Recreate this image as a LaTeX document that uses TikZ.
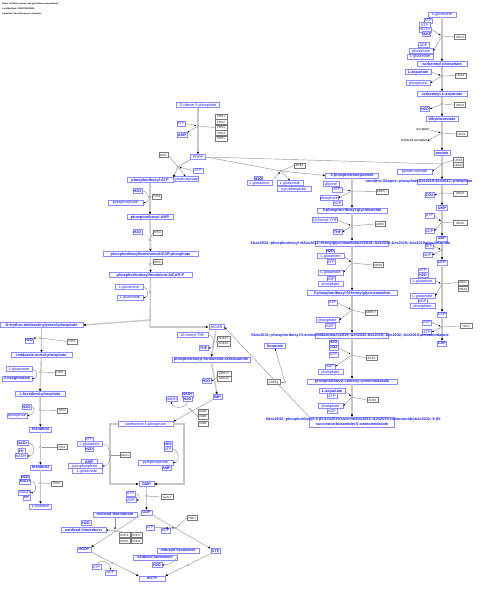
\documentclass[tikz,border=0pt]{standalone}
\usepackage{fontspec}
\setmainfont{Liberation Sans}
\usetikzlibrary{arrows.meta}
\definecolor{metline}{RGB}{140,140,255}
\definecolor{mettext}{RGB}{30,30,235}
\definecolor{geneline}{RGB}{120,120,120}
\definecolor{chaingray}{RGB}{200,200,200}
\definecolor{linkgray}{RGB}{150,150,150}
\tikzset{
  met/.style={draw=metline, line width=0.45pt, fill=white, text=mettext,
    font=\fontsize{3.8}{3.8}\selectfont, inner sep=0.2pt, minimum height=4.6pt,
    text height=2.8pt, text depth=0.8pt},
  main/.style={met, font=\fontsize{3.8}{3.8}\selectfont\bfseries},
  mw/.style={minimum width=#1},
  ovl/.style={text=mettext, font=\fontsize{3.8}{3.8}\selectfont\bfseries, inner sep=0pt},
  gene/.style={draw=geneline, line width=0.45pt, fill=white, text=black!85,
    font=\fontsize{3}{3}\selectfont, inner sep=0.2pt, minimum height=4.6pt,
    minimum width=11pt},
  plain/.style={font=\fontsize{3.4}{3.4}\selectfont, inner sep=0pt},
  head/.style={anchor=west, font=\fontsize{2.15}{2.15}\selectfont\bfseries, inner sep=0pt},
  rxn/.style={circle, draw=linkgray, fill=white, line width=0.4pt, inner sep=0pt,
    minimum size=2.4pt},
  track/.style={draw=chaingray, line width=1.4pt},
  chain/.style={track, -{Latex[length=2.6pt,width=2.6pt,color=black]}},
  slim/.style={draw=chaingray!85!black, line width=0.6pt, -{Latex[length=2.4pt,width=2.2pt,color=black]}},
  link/.style={draw=linkgray, line width=0.45pt},
  feed/.style={link, -{Latex[length=2pt,width=1.8pt,color=black]}},
}
\begin{document}
\begin{tikzpicture}[x=1pt,y=-1pt]
\useasboundingbox (0,0) rectangle (480,590);

% header
\node[head] (hName) at (2,3.5) {Name: Histidine, purine, and pyrimidine superpathway};
\node[head] (hDate) at (2,8.5) {Last-Modified: 20220720135016};
\node[head] (hOrg) at (2,13.5) {Organism: Saccharomyces cerevisiae};

% pyrimidine branch
\node[met,mw=28] (yGln) at (442,14.5) {L-glutamine};
\node[met,mw=8] (yAtp0) at (428,20.5) {ATP};
\node[met,mw=11] (yAtp1) at (424.5,25) {ATP};
\node[met,mw=12] (yHco) at (425,29.5) {HCO3-};
\node[main,mw=8] (yWat1) at (426.5,34) {H2O};
\node[met,mw=11] (yAdp1) at (423.5,45) {ADP};
\node[met,mw=24] (yPi1) at (421,51) {phosphate};
\node[met,mw=26] (yGlu1) at (420,56.5) {L-glutamate};
\node[main,mw=50] (yCp) at (442,64) {carbamoyl phosphate};
\node[main,mw=26] (yAsp) at (418,72) {L-aspartate};
\node[met,mw=24] (yPi2) at (418,83) {phosphate};
\node[main,mw=50] (yCa) at (442,94) {carbamoyl-L-aspartate};
\node[main,mw=9] (yWat2) at (425,109) {H2O};
\node[main,mw=32] (yDho) at (442,119) {dihydroorotate};
\node[plain] (yAcc) at (423,130) {acceptor};
\node[plain] (yRacc) at (414,141) {reduced acceptor};
\node[main,mw=16] (yOro) at (442,153) {orotate};
\node[met,mw=35] (yPpi) at (414.5,171.5) {pyrophosphate};
\node[main,mw=50,label={[ovl,xshift=-23pt]center:orotidine-5\&apos;-phosphate\&\#x2019;\&\#x2032;-phosphate}] (yOmp) at (442,182) {};
\node[main,mw=9] (yCo2) at (429.5,195) {CO2};
\node[main,mw=11] (yUmp) at (442,208) {UMP};
\node[met,mw=9] (yAtp2) at (429.5,215.5) {ATP};
\node[met,mw=9] (yAdp2) at (429.5,231) {ADP};
\node[main,mw=11] (yUdp) at (442,238.5) {UDP};
\node[met,mw=8] (yAtp3) at (429,246) {ATP};
\node[met,mw=9] (yAdp3) at (427.5,255) {ADP};
\node[main,mw=10] (yUtp) at (442,262.5) {UTP};
\node[met,mw=10] (yAtp4) at (423,270.5) {ATP};
\node[main,mw=10] (yWat4) at (423,275) {H2O};
\node[met,mw=25] (yGln4) at (422.5,281) {L-glutamine};
\node[met,mw=25] (yGlu4) at (422.5,296) {L-glutamate};
\node[met,mw=9] (yAdp4) at (422.5,301) {ADP};
\node[met,mw=25] (yPi4) at (422.5,306) {phosphate};
\node[main,mw=9] (yCtp) at (442,314.5) {CTP};
\node[met,mw=9] (yAdp5) at (427,322.5) {ADP};
\node[met,mw=9] (yAtp5) at (427,332) {ATP};
\node[main,mw=9] (yCdp) at (442,343.5) {CDP};

\node[gene] (gUra2a) at (460,37) {URA2};
\node[gene] (gUra2b) at (460.5,75.5) {URA2};
\node[gene] (gUra4) at (460,105) {URA4};
\node[gene] (gUra1) at (461.5,134) {URA1};
\node[gene,mw=10] (gUra5) at (458.5,160) {URA5};
\node[gene,mw=10] (gUra10) at (458.5,165) {URA10};
\node[gene,mw=14] (gUra3) at (460,193.5) {URA3};
\node[gene,mw=14] (gUra6) at (460,223) {URA6};
\node[gene,mw=10] (gUra7) at (463,282.5) {URA7};
\node[gene,mw=10] (gUra8) at (463,289) {URA8};
\node[gene,mw=12] (gYnk1a) at (466,326) {YNK1};

\draw[chain] (yGln) -- (yCp);
\draw[chain] (yCp) -- (yCa);
\draw[chain] (yCa) -- (yDho);
\draw[chain] (yDho) -- (yOro);
\draw[chain] (yOro) -- (yOmp);
\draw[chain] (yOmp) -- (yUmp);
\draw[chain] (yUmp) -- (yUdp);
\draw[chain] (yUdp) -- (yUtp);
\draw[chain] (yUtp) -- (yCtp);
\draw[chain] (yCtp) -- (yCdp);

\node[rxn] (yR1) at (442,36) {};
\node[rxn] (yR2) at (442,76) {};
\node[rxn] (yR3) at (442,104) {};
\node[rxn] (yR4) at (442,133) {};
\node[rxn] (yR5) at (442,164) {};
\node[rxn] (yR6) at (442,193) {};
\node[rxn] (yR7) at (442,222) {};
\node[rxn] (yR8) at (442,250) {};
\node[rxn] (yR9) at (442,284) {};
\node[rxn] (yR10) at (442,327) {};

\draw[feed] (yHco.east) -- (yR1);
\draw[feed] (yR1) -- (yPi1.east);
\draw[link] (gUra2a.west) -- (yR1);
\draw[feed] (yAsp.east) -- (yR2);
\draw[feed] (yR2) -- (yPi2.east);
\draw[link] (gUra2b.west) -- (yR2);
\draw[feed] (yR3) -- (yWat2.east);
\draw[link] (gUra4.west) -- (yR3);
\draw[feed] (yAcc.east) -- (yR4);
\draw[feed] (yR4) -- (yRacc.east);
\draw[link] (gUra1.west) -- (yR4);
\draw[feed] (yR5) -- (yPpi.east);
\draw[link] (gUra5.west) -- (yR5);
\draw[feed] (yR6) -- (yCo2.east);
\draw[link] (gUra3.west) -- (yR6);
\draw[feed] (yAtp2.east) -- (yR7);
\draw[feed] (yR7) -- (yAdp2.east);
\draw[link] (gUra6.west) -- (yR7);
\draw[feed] (yAtp3.east) -- (yR8);
\draw[feed] (yR8) -- (yAdp3.east);
\draw[feed] (yGln4.east) -- (yR9);
\draw[feed] (yR9) -- (yGlu4.east);
\draw[link] (gUra7.west) -- (yR9);
\draw[feed] (yAdp5.east) -- (yR10);
\draw[feed] (yR10) -- (yAtp5.east);
\draw[link] (gYnk1a.west) -- (yR10);

% PRPP and histidine branch
\node[met,mw=43] (hR5p) at (198,105) {D-ribose 5-phosphate};
\node[met,mw=8] (hAtp0) at (181,123.5) {ATP};
\node[main,mw=10] (hAmp0) at (182,135) {AMP};
\node[met,mw=15] (hPrpp) at (198,157) {PRPP};
\node[met,mw=10] (hAtp1) at (198,170.5) {ATP};
\node[met,mw=25] (hPpi1) at (185.5,179) {pyrophosphate};
\node[main,mw=46] (hPrAtp) at (150,180) {phosphoribosyl-ATP};
\node[main,mw=9] (hWat2) at (137.5,191) {H2O};
\node[met,mw=35] (hPpi2) at (125.5,202.5) {pyrophosphate};
\node[main,mw=46] (hPrAmp) at (150,217) {phosphoribosyl-AMP};
\node[main,mw=9] (hWat3) at (137.5,232) {H2O};
\node[main,mw=95] (hProFar) at (150.5,254) {phosphoribosylformiminoAICAR-phosphate};
\node[main,mw=83] (hPrFar) at (150.5,275) {phosphoribulosylformimino-AICAR-P};
\node[met,mw=28] (hGln) at (129,287) {L-glutamine};
\node[met,mw=26] (hGlu) at (130,297.5) {L-glutamate};
\node[main,mw=83] (hIgp) at (41.5,325) {D-erythro-imidazole-glycerol-phosphate};
\node[main,mw=8] (hWat4) at (29,340.5) {H2O};
\node[main,mw=61] (hIap) at (41.5,355) {imidazole-acetol-phosphate};
\node[met,mw=26] (hGlu5) at (19,369) {L-glutamate};
\node[main,mw=30] (hAkg) at (17,378.5) {2-oxoglutarate};
\node[main,mw=50] (hHolp) at (40,394) {L-histidinol-phosphate};
\node[main,mw=9] (hWat6) at (26.5,407) {H2O};
\node[met,mw=20] (hPi6) at (17,415.5) {phosphate};
\node[main,mw=22] (hHol) at (40.5,429.5) {histidinol};
\node[main,mw=9] (hNad7) at (22.5,443) {NAD+};
\node[main,mw=7] (hH7) at (21.5,451) {H+};
\node[met,mw=12] (hNadh7) at (21,456) {NADH};
\node[main,mw=21] (hHal) at (40.5,467.5) {histidinal};
\node[main,mw=8] (hWat8) at (25,477.5) {H2O};
\node[main,mw=8] (hNad8) at (25,481.5) {NAD+};
\node[met,mw=12] (hNadh8) at (24.5,492.5) {NADH};
\node[main,mw=7] (hH8) at (26.5,497.5) {H+};
\node[met,mw=22] (hHis) at (40.5,506.5) {L-histidine};

\node[gene,mw=12] (gPrs1) at (221,116.5) {PRS1};
\node[gene,mw=12] (gPrs2) at (221,122) {PRS2};
\node[gene,mw=12] (gPrs3) at (221,127.5) {PRS3};
\node[gene,mw=12] (gPrs4) at (221,133) {PRS4};
\node[gene,mw=12] (gPrs5) at (221,138.5) {PRS5};
\node[gene,mw=9] (gHis1) at (163.5,155) {HIS1};
\node[gene,mw=9] (gHis4a) at (157,196.5) {HIS4};
\node[gene,mw=9] (gHis4b) at (157.5,232.5) {HIS4};
\node[gene,mw=9] (gHis6) at (157.5,262) {HIS6};
\node[gene,mw=10] (gHis3) at (72,341.5) {HIS3};
\node[gene,mw=10] (gHis5) at (60,372.5) {HIS5};
\node[gene,mw=10] (gHis2) at (62.5,410.5) {HIS2};
\node[gene,mw=10] (gHis4c) at (62,447) {HIS4};
\node[gene,mw=11] (gHis4d) at (56.5,483.5) {HIS4};

\coordinate (hFork) at (150,320);
\coordinate (hBend) at (150,327);
\draw[chain] (hR5p) -- (hPrpp);
\draw[chain] (hPrpp.south west) -- (178,167) -- (hPrAtp.north east);
\draw[chain] (hPrAtp) -- (hPrAmp);
\draw[chain] (hPrAmp) -- (hProFar);
\draw[chain] (hProFar) -- (hPrFar);
\draw[track] (hPrFar) -- (hBend);
\draw[chain] (hBend) -- (208.5,327);
\draw[chain] (hFork) -- (hIgp.east);
\draw[chain] (hIgp) -- (hIap);
\draw[chain] (hIap) -- (hHolp);
\draw[chain] (hHolp) -- (hHol);
\draw[chain] (hHol) -- (hHal);
\draw[chain] (hHal) -- (hHis);

\node[rxn] (hR0) at (198,126) {};
\node[rxn] (hR1) at (178,167) {};
\node[rxn] (hR2) at (150,197) {};
\node[rxn] (hR3) at (150,240) {};
\node[rxn] (hR4) at (150,264) {};
\node[rxn] (hR5) at (150,292) {};
\node[rxn] (hR6) at (40.5,338) {};
\node[rxn] (hR7) at (40.5,372) {};
\node[rxn] (hR8) at (40.5,410) {};
\node[rxn] (hR9) at (40.5,447) {};
\node[rxn] (hR10) at (40.5,483) {};

\draw[feed] (hAtp0.east) -- (hR0);
\draw[feed] (hR0) -- (hAmp0.north east);
\draw[link] (gPrs3.west) -- (hR0);
\draw[link] (gHis1.east) -- (hR1);
\draw[feed] (hAtp1.west) -- (hR1);
\draw[feed] (hR1) -- (hPpi1.north);
\draw[feed] (hWat2.east) to[out=0,in=0,looseness=1.6] (hPpi2.east);
\draw[link] (gHis4a.west) -- (hR2);
\draw[link, densely dotted] (hWat3.east) -- (hR3);
\draw[link] (gHis4b.west) -- (hR3);
\draw[link] (gHis6.west) -- (hR4);
\draw[feed] (hGln.east) to[out=0,in=0,looseness=1.4] (hGlu.east);
\draw[feed] (hR6) -- (hWat4.north east);
\draw[link] (gHis3.west) -- (hR6);
\draw[feed] (hGlu5.east) to[out=0,in=0,looseness=1.6] (hAkg.east);
\draw[link] (gHis5.west) -- (hR7);
\draw[feed] (hWat6.east) to[out=0,in=0,looseness=1.6] (hPi6.east);
\draw[link] (gHis2.west) -- (hR8);
\draw[feed] (hNad7.east) to[out=0,in=0,looseness=1.5] (hNadh7.east);
\draw[link] (gHis4c.west) -- (hR9);
\draw[feed] (hNad8.east) to[out=0,in=0,looseness=1.5] (hNadh8.east);
\draw[link] (gHis4d.west) -- (hR10);

% purine de novo branch
\node[main,mw=53] (pPra) at (352,175.5) {5-phosphoribosylamine};
\node[main,mw=7] (pWat1) at (258.5,179) {H2O};
\node[met,mw=25] (pGln1) at (259.5,183) {L-glutamine};
\node[met,mw=26] (pGlu1) at (290,183) {L-glutamate};
\node[met,mw=34] (pPpi1) at (294,189) {pyrophosphate};
\node[met,mw=16] (pGly) at (331,184) {glycine};
\node[met,mw=10] (pAtp2) at (337,189.5) {ATP};
\node[met,mw=18] (pPi2) at (329,198) {phosphate};
\node[met,mw=9] (pAdp2) at (337.5,203) {ADP};
\node[main,mw=70] (pGar) at (352,210.5) {5-phospho-ribosyl-glycineamide};
\node[met,mw=24] (pFthf3) at (325,220) {10-formyl-THF};
\node[main,mw=9] (pThf3) at (337.5,232) {THF};
\node[main,mw=73,label={[ovl,xshift=-1.5pt]center:5\&\#x2032;-phosphoribosyl-N\&\#x2032;-formylglycineamide\&\#x2019;-\&\#x2032;\&\#x2019;-\&\#x2019;glycineamide}] (pFgar) at (352,243.5) {};
\node[main,mw=8] (pWat4) at (330,251.5) {H2O};
\node[met,mw=27] (pGln4) at (330.5,256) {L-glutamine};
\node[met,mw=8] (pAtp4) at (331,262) {ATP};
\node[met,mw=25] (pGlu4) at (330.5,272.5) {L-glutamate};
\node[met,mw=8] (pAdp4) at (331,279) {ADP};
\node[met,mw=25] (pPi4) at (330.5,284) {phosphate};
\node[main,mw=90] (pFgam) at (352,293) {5-phosphoribosyl-N-formylglycineamidine};
\node[met,mw=9] (pAtp5) at (332.5,302.5) {ATP};
\node[met,mw=23] (pPi5) at (327.5,320) {phosphate};
\node[met,mw=10] (pAdp5) at (330,326) {ADP};
\node[main,mw=73,label={[ovl,xshift=-2pt]center:5\&\#x2032;-phosphoribosyl-5-aminoimidazole\&\#x2019;-\&\#x2032;\&\#x2019;-\&\#x2032;-\&\#x2019;aminoimidazole}] (pAir) at (352,335.5) {};
\node[main,mw=21] (pFum) at (275,346) {fumarate};
\node[main,mw=9] (pWat6) at (333.5,342.5) {H2O};
\node[main,mw=9] (pCo2) at (333.5,347.5) {CO2};
\node[met,mw=9] (pAtp6) at (333.5,354.5) {ATP};
\node[met,mw=10] (pAdp6) at (330,366.5) {ADP};
\node[met,mw=25] (pPi6) at (330.5,372) {phosphate};
\node[main,mw=90] (pCair) at (352,381.5) {phosphoribosyl-carboxy-aminoimidazole};
\node[main,mw=26] (pAsp) at (332,391) {L-aspartate};
\node[met,mw=10] (pAtp7) at (332,396) {ATP};
\node[met,mw=25] (pPi7) at (330.5,406) {phosphate};
\node[met,mw=10] (pAdp7) at (332,411) {ADP};
\node[main,mw=85,minimum height=9.5pt,text height=7.5pt,align=center,
  label={[ovl,yshift=2.4pt,xshift=1.5pt]center:5\&\#x2032;-phosphoribosyl-4-(N-\&\#x2019;succino\&\#x2032;-\&\#x2019;carboxamide)\&\#x2032;-5-(N-}] (pSaicar) at (352,422) {\\succinocarboxamide)-5-aminoimidazole};

\node[gene,mw=11] (gAde4) at (299.5,165.5) {ADE4};
\node[gene,mw=12] (gAde57a) at (382,191.5) {ADE5,7};
\node[gene,mw=10] (gAde8) at (380,224) {ADE8};
\node[gene,mw=10] (gAde6) at (378,265) {ADE6};
\node[gene,mw=12] (gAde57b) at (371,313) {ADE5,7};
\node[gene,mw=11] (gAde2) at (371.5,358) {ADE2};
\node[gene,mw=11] (gAde1) at (372.5,400) {ADE1};
\node[gene,mw=13] (gAde13) at (273.5,382) {ADE13};

\draw[link] (hPrpp.east) -- (442,164);
\draw[slim] (hPrpp.east) -- (281,171) -- (pPra.west);
\draw[chain] (pPra) -- (pGar);
\draw[chain] (pGar) -- (pFgar);
\draw[chain] (pFgar) -- (pFgam);
\draw[chain] (pFgam) -- (pAir);
\draw[chain] (pAir) -- (pCair);
\draw[chain] (pCair) -- (pSaicar);

\node[rxn] (pR1) at (281,171) {};
\node[rxn] (pR2) at (352,191) {};
\node[rxn] (pR3) at (352,226) {};
\node[rxn] (pR4) at (352,263) {};
\node[rxn] (pR5) at (352,310) {};
\node[rxn] (pR6) at (352,355) {};
\node[rxn] (pR7) at (352,397) {};

\draw[feed] (pGln1.north east) -- (pR1);
\draw[feed] (pR1) -- (pGlu1.north);
\draw[link] (gAde4.west) -- (pR1);
\draw[feed] (pAtp2.east) -- (pR2);
\draw[feed] (pR2) -- (pPi2.east);
\draw[link] (gAde57a.west) -- (pR2);
\draw[feed] (pFthf3.east) -- (pR3);
\draw[feed] (pR3) -- (pThf3.east);
\draw[link] (gAde8.west) -- (pR3);
\draw[feed] (pGln4.east) -- (pR4);
\draw[feed] (pR4) -- (pGlu4.east);
\draw[link] (gAde6.west) -- (pR4);
\draw[feed] (pAtp5.east) -- (pR5);
\draw[feed] (pR5) -- (pPi5.east);
\draw[link] (gAde57b.west) -- (pR5);
\draw[feed] (pCo2.east) -- (pR6);
\draw[feed] (pR6) -- (pAdp6.east);
\draw[link] (gAde2.west) -- (pR6);
\draw[feed] (pAsp.east) -- (pR7);
\draw[feed] (pR7) -- (pPi7.east);
\draw[link] (gAde1.west) -- (pR7);

% AICAR to GMP
\node[met,mw=15] (pAicar) at (216.5,327) {AICAR};
\node[met,mw=31] (pFthf8) at (192.5,335) {10-formyl-THF};
\node[main,mw=9] (pThf8) at (203.5,348) {THF};
\node[main,mw=78] (pFaicar) at (211,359.5) {phosphoribosyl-formamido-carboxamide};
\node[main,mw=9] (pWat9) at (206.5,381) {H2O};
\node[main,mw=9] (pImp) at (217.5,397) {IMP};
\node[main,mw=9] (gNad) at (187.5,394.5) {NAD+};
\node[main,mw=9] (gWat0) at (187.5,399) {H2O};
\node[met,mw=11] (gNadh) at (171.5,399) {NADH};
\node[met,mw=55] (gXmp) at (145.5,424) {xanthosine-5-phosphate};
\node[met,mw=8] (gAtp1) at (89,439.5) {ATP};
\node[met,mw=25] (gGln) at (89.5,444) {L-glutamine};
\node[main,mw=8] (gWat1) at (89,449) {H2O};
\node[main,mw=16] (gAmp1) at (89,462) {AMP};
\node[met,mw=34] (gPpi1) at (85,466) {pyrophosphate};
\node[met,mw=30] (gGlu) at (87,471) {L-glutamate};
\node[main,mw=8] (gNh3) at (168,444) {NH3};
\node[met,mw=8] (gAtp2) at (168,449) {ATP};
\node[met,mw=35] (gPpi2) at (155.5,462.5) {pyrophosphate};
\node[main,mw=9] (gAmp2) at (166.5,468) {AMP};
\node[main,mw=15] (gGmp) at (146.5,484) {GMP};
\node[met,mw=9] (gAtp3) at (130.5,493.5) {ATP};
\node[met,mw=10] (gAdp3) at (131,500) {ADP};
\node[main,mw=11] (gGdp) at (146.5,512.5) {GDP};
\node[main,mw=44] (gRtrx) at (115,514.5) {reduced thioredoxin};
\node[main,mw=10] (gWat4) at (86,523) {H2O};
\node[main,mw=45] (gOtrx) at (83.5,530) {oxidized thioredoxin};
\node[main,mw=14] (gDgdp) at (84,549.5) {dGDP};
\node[met,mw=9] (gAtp5) at (96.5,567) {ATP};
\node[met,mw=11] (gAdp5) at (110.5,572.5) {ADP};
\node[main,mw=26] (gDgtp) at (152,578.5) {dGTP};
\node[met,mw=8] (gAtp6) at (150,527.5) {ATP};
\node[met,mw=9] (gAdp6) at (165.5,530.5) {ADP};
\node[main,mw=9] (gGtp) at (215.5,551) {GTP};
\node[main,mw=42] (gRfld) at (178,550.5) {reduced flavodoxin};
\node[main,mw=44] (gOfld) at (155,557.5) {oxidized flavodoxin};
\node[main,mw=10] (gWat7) at (157,565) {H2O};

\node[gene,mw=13] (gAde17a) at (223.5,338.5) {ADE17};
\node[gene,mw=13] (gAde16a) at (223.5,343.5) {ADE16};
\node[gene,mw=14] (gAde17b) at (224,373.5) {ADE17};
\node[gene,mw=14] (gAde16b) at (224,378.5) {ADE16};
\node[gene,mw=10] (gImd2) at (203,411.5) {IMD2};
\node[gene,mw=10] (gImd3) at (203,416.5) {IMD3};
\node[gene,mw=10] (gImd4) at (203,423.5) {IMD4};
\node[gene,mw=10] (gGua1) at (125,455) {GUA1};
\node[gene,mw=12] (gGuk1) at (167,497) {GUK1};
\node[gene,mw=11] (gRnr1) at (124.5,535) {RNR1};
\node[gene,mw=11] (gRnr3) at (136.5,535) {RNR3};
\node[gene,mw=11] (gRnr2) at (124.5,541) {RNR2};
\node[gene,mw=11] (gRnr4) at (136.5,541) {RNR4};
\node[gene,mw=10] (gYnk1b) at (192,518) {YNK1};

\draw[slim] (pSaicar.north west) -- (pAicar.east);
\draw[chain] (pAicar) -- (pFaicar);
\draw[chain] (pFaicar) -- (pImp);
\draw[slim] (pImp.south west) -- (gXmp.north east);
\draw[chain] (gXmp.west) -- (110,424) -- (110,484) -- (gGmp.west);
\draw[chain] (gXmp.east) -- (184,424) -- (184,484) -- (gGmp.east);
\draw[chain] (gGmp) -- (gGdp);
\draw[slim] (gGdp.south west) -- (gDgdp.north east);
\draw[slim] (gGdp.south east) -- (gGtp.north west);
\draw[slim] (gGtp.south west) -- (gDgtp.north east);
\draw[slim] (gDgdp.south east) -- (gDgtp.north west);

\node[rxn] (pR8) at (285,382) {};
\node[rxn] (pR9) at (217,342) {};
\node[rxn] (pR10) at (217,378) {};
\node[rxn] (gR1) at (190,409) {};
\node[rxn] (gR2) at (110,455) {};
\node[rxn] (gR3) at (146.5,496) {};
\node[rxn] (gR4) at (115,531) {};
\node[rxn] (gR5) at (176,528) {};
\node[rxn] (gR6) at (188,565) {};
\node[rxn] (gR7) at (112,563) {};

\draw[feed] (pR8) -- (pFum.south);
\draw[link] (gAde13.east) -- (pR8);
\draw[feed] (pFthf8.east) to[out=0,in=0,looseness=1.3] (pThf8.east);
\draw[link] (gAde17a.west) -- (pR9);
\draw[feed] (pR10) -- (pWat9.east);
\draw[link] (gAde17b.west) -- (pR10);
\draw[feed] (gWat0.south) to[out=-90,in=-90,looseness=1.2] (gNadh.south);
\draw[link] (gImd3.west) -- (gR1);
\draw[link] (gGua1.west) -- (gR2);
\draw[feed] (gGln.east) to[out=0,in=0,looseness=1.2] (gPpi1.east);
\draw[feed] (gAtp2.east) to[out=0,in=0,looseness=1.3] (gPpi2.east);
\draw[feed] (gAtp3.east) to[out=0,in=0,looseness=1.6] (gAdp3.east);
\draw[link] (gGuk1.west) -- (gR3);
\draw[feed] (gRtrx.south) -- (gR4);
\draw[feed] (gR4) -- (gOtrx.east);
\draw[link] (gRnr1.north) -- (gR4);
\draw[feed] (gAtp6.east) -- (gR5);
\draw[feed] (gR5) -- (gAdp6.north);
\draw[link] (gYnk1b.west) -- (gR5);
\draw[feed] (gRfld.south) to[out=-90,in=0] (gWat7.east);
\draw[feed] (gAtp5.north) to[out=60,in=90,looseness=1.3] (gAdp5.north);
\end{tikzpicture}
\end{document}
